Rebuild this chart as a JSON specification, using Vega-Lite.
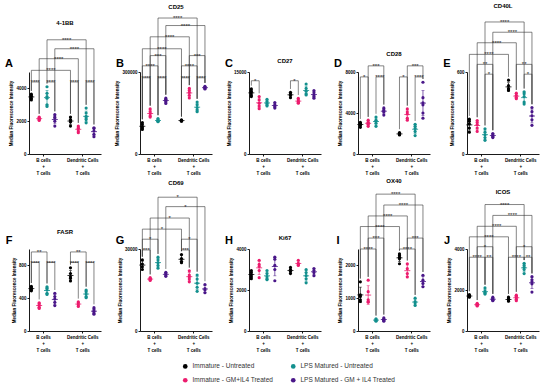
{
"$schema": "https://vega.github.io/schema/vega-lite/v6.json",
"background": "white",
"padding": {"left": 5, "right": 5, "top": 2, "bottom": 2},
"datasets": {
"pts": [
{"p":"A","g":"B","c":"IU","r":3,"v":3650},{"p":"A","g":"B","c":"IU","r":1,"v":3500},{"p":"A","g":"B","c":"IU","r":5,"v":3400},{"p":"A","g":"B","c":"IU","r":2,"v":3300},{"p":"A","g":"B","c":"IU","r":4,"v":3550},
{"p":"A","g":"B","c":"IG","r":3,"v":2250},{"p":"A","g":"B","c":"IG","r":1,"v":2150},{"p":"A","g":"B","c":"IG","r":5,"v":2050},{"p":"A","g":"B","c":"IG","r":2,"v":2200},{"p":"A","g":"B","c":"IG","r":4,"v":2100},
{"p":"A","g":"B","c":"LU","r":3,"v":4100},{"p":"A","g":"B","c":"LU","r":1,"v":3700},{"p":"A","g":"B","c":"LU","r":5,"v":3400},{"p":"A","g":"B","c":"LU","r":2,"v":3000},{"p":"A","g":"B","c":"LU","r":4,"v":2900},{"p":"A","g":"B","c":"LU","r":6,"v":3500},
{"p":"A","g":"B","c":"LG","r":3,"v":2400},{"p":"A","g":"B","c":"LG","r":1,"v":2200},{"p":"A","g":"B","c":"LG","r":5,"v":2000},{"p":"A","g":"B","c":"LG","r":2,"v":1700},{"p":"A","g":"B","c":"LG","r":4,"v":2250},
{"p":"A","g":"DC","c":"IU","r":3,"v":2250},{"p":"A","g":"DC","c":"IU","r":1,"v":2100},{"p":"A","g":"DC","c":"IU","r":5,"v":1950},{"p":"A","g":"DC","c":"IU","r":2,"v":1700},{"p":"A","g":"DC","c":"IU","r":4,"v":2050},
{"p":"A","g":"DC","c":"IG","r":3,"v":1700},{"p":"A","g":"DC","c":"IG","r":1,"v":1550},{"p":"A","g":"DC","c":"IG","r":5,"v":1400},{"p":"A","g":"DC","c":"IG","r":2,"v":1600},{"p":"A","g":"DC","c":"IG","r":4,"v":1300},
{"p":"A","g":"DC","c":"LU","r":3,"v":2800},{"p":"A","g":"DC","c":"LU","r":1,"v":2300},{"p":"A","g":"DC","c":"LU","r":5,"v":2100},{"p":"A","g":"DC","c":"LU","r":2,"v":1900},{"p":"A","g":"DC","c":"LU","r":4,"v":2500},{"p":"A","g":"DC","c":"LU","r":6,"v":2200},
{"p":"A","g":"DC","c":"LG","r":3,"v":1600},{"p":"A","g":"DC","c":"LG","r":1,"v":1400},{"p":"A","g":"DC","c":"LG","r":5,"v":1200},{"p":"A","g":"DC","c":"LG","r":2,"v":1050},{"p":"A","g":"DC","c":"LG","r":4,"v":1550},

{"p":"B","g":"B","c":"IU","r":3,"v":115000},{"p":"B","g":"B","c":"IU","r":1,"v":108000},{"p":"B","g":"B","c":"IU","r":5,"v":100000},{"p":"B","g":"B","c":"IU","r":2,"v":95000},{"p":"B","g":"B","c":"IU","r":4,"v":90000},
{"p":"B","g":"B","c":"IG","r":3,"v":165000},{"p":"B","g":"B","c":"IG","r":1,"v":155000},{"p":"B","g":"B","c":"IG","r":5,"v":148000},{"p":"B","g":"B","c":"IG","r":2,"v":140000},{"p":"B","g":"B","c":"IG","r":4,"v":135000},
{"p":"B","g":"B","c":"LU","r":3,"v":130000},{"p":"B","g":"B","c":"LU","r":1,"v":125000},{"p":"B","g":"B","c":"LU","r":5,"v":120000},{"p":"B","g":"B","c":"LU","r":2,"v":118000},{"p":"B","g":"B","c":"LU","r":4,"v":122000},
{"p":"B","g":"B","c":"LG","r":3,"v":205000},{"p":"B","g":"B","c":"LG","r":1,"v":198000},{"p":"B","g":"B","c":"LG","r":5,"v":192000},{"p":"B","g":"B","c":"LG","r":2,"v":185000},{"p":"B","g":"B","c":"LG","r":4,"v":200000},
{"p":"B","g":"DC","c":"IU","r":3,"v":125000},{"p":"B","g":"DC","c":"IU","r":1,"v":122000},{"p":"B","g":"DC","c":"IU","r":5,"v":120000},{"p":"B","g":"DC","c":"IU","r":2,"v":123000},{"p":"B","g":"DC","c":"IU","r":4,"v":121000},
{"p":"B","g":"DC","c":"IG","r":3,"v":240000},{"p":"B","g":"DC","c":"IG","r":1,"v":232000},{"p":"B","g":"DC","c":"IG","r":5,"v":225000},{"p":"B","g":"DC","c":"IG","r":2,"v":215000},{"p":"B","g":"DC","c":"IG","r":4,"v":205000},
{"p":"B","g":"DC","c":"LU","r":3,"v":190000},{"p":"B","g":"DC","c":"LU","r":1,"v":180000},{"p":"B","g":"DC","c":"LU","r":5,"v":170000},{"p":"B","g":"DC","c":"LU","r":2,"v":162000},{"p":"B","g":"DC","c":"LU","r":4,"v":155000},
{"p":"B","g":"DC","c":"LG","r":3,"v":248000},{"p":"B","g":"DC","c":"LG","r":1,"v":244000},{"p":"B","g":"DC","c":"LG","r":5,"v":240000},{"p":"B","g":"DC","c":"LG","r":2,"v":238000},

{"p":"C","g":"B","c":"IU","r":3,"v":11900},{"p":"C","g":"B","c":"IU","r":1,"v":11500},{"p":"C","g":"B","c":"IU","r":5,"v":11200},{"p":"C","g":"B","c":"IU","r":2,"v":10800},{"p":"C","g":"B","c":"IU","r":4,"v":10500},
{"p":"C","g":"B","c":"IG","r":3,"v":10500},{"p":"C","g":"B","c":"IG","r":1,"v":9900},{"p":"C","g":"B","c":"IG","r":5,"v":9300},{"p":"C","g":"B","c":"IG","r":2,"v":8800},{"p":"C","g":"B","c":"IG","r":4,"v":8300},
{"p":"C","g":"B","c":"LU","r":3,"v":10000},{"p":"C","g":"B","c":"LU","r":1,"v":9600},{"p":"C","g":"B","c":"LU","r":5,"v":9300},{"p":"C","g":"B","c":"LU","r":2,"v":9000},{"p":"C","g":"B","c":"LU","r":4,"v":8800},
{"p":"C","g":"B","c":"LG","r":3,"v":9400},{"p":"C","g":"B","c":"LG","r":1,"v":9000},{"p":"C","g":"B","c":"LG","r":5,"v":8700},{"p":"C","g":"B","c":"LG","r":2,"v":8400},
{"p":"C","g":"DC","c":"IU","r":3,"v":11300},{"p":"C","g":"DC","c":"IU","r":1,"v":11000},{"p":"C","g":"DC","c":"IU","r":5,"v":10700},{"p":"C","g":"DC","c":"IU","r":2,"v":10300},
{"p":"C","g":"DC","c":"IG","r":3,"v":10200},{"p":"C","g":"DC","c":"IG","r":1,"v":9900},{"p":"C","g":"DC","c":"IG","r":5,"v":9600},{"p":"C","g":"DC","c":"IG","r":2,"v":9400},{"p":"C","g":"DC","c":"IG","r":4,"v":9300},
{"p":"C","g":"DC","c":"LU","r":3,"v":12800},{"p":"C","g":"DC","c":"LU","r":1,"v":12000},{"p":"C","g":"DC","c":"LU","r":5,"v":11500},{"p":"C","g":"DC","c":"LU","r":2,"v":11000},{"p":"C","g":"DC","c":"LU","r":4,"v":10800},
{"p":"C","g":"DC","c":"LG","r":3,"v":11600},{"p":"C","g":"DC","c":"LG","r":1,"v":11200},{"p":"C","g":"DC","c":"LG","r":5,"v":10800},{"p":"C","g":"DC","c":"LG","r":2,"v":10500},{"p":"C","g":"DC","c":"LG","r":4,"v":10200},

{"p":"D","g":"B","c":"IU","r":3,"v":3100},{"p":"D","g":"B","c":"IU","r":1,"v":2900},{"p":"D","g":"B","c":"IU","r":5,"v":2800},{"p":"D","g":"B","c":"IU","r":2,"v":2600},{"p":"D","g":"B","c":"IU","r":4,"v":3000},
{"p":"D","g":"B","c":"IG","r":3,"v":3300},{"p":"D","g":"B","c":"IG","r":1,"v":3100},{"p":"D","g":"B","c":"IG","r":5,"v":2900},{"p":"D","g":"B","c":"IG","r":2,"v":2700},{"p":"D","g":"B","c":"IG","r":4,"v":3000},
{"p":"D","g":"B","c":"LU","r":3,"v":3600},{"p":"D","g":"B","c":"LU","r":1,"v":3300},{"p":"D","g":"B","c":"LU","r":5,"v":3000},{"p":"D","g":"B","c":"LU","r":2,"v":2700},{"p":"D","g":"B","c":"LU","r":4,"v":3200},
{"p":"D","g":"B","c":"LG","r":3,"v":4500},{"p":"D","g":"B","c":"LG","r":1,"v":4300},{"p":"D","g":"B","c":"LG","r":5,"v":4100},{"p":"D","g":"B","c":"LG","r":2,"v":3800},{"p":"D","g":"B","c":"LG","r":4,"v":4200},
{"p":"D","g":"DC","c":"IU","r":3,"v":2100},{"p":"D","g":"DC","c":"IU","r":1,"v":2000},{"p":"D","g":"DC","c":"IU","r":5,"v":1950},{"p":"D","g":"DC","c":"IU","r":2,"v":1900},{"p":"D","g":"DC","c":"IU","r":4,"v":1850},
{"p":"D","g":"DC","c":"IG","r":3,"v":4400},{"p":"D","g":"DC","c":"IG","r":1,"v":4100},{"p":"D","g":"DC","c":"IG","r":5,"v":3900},{"p":"D","g":"DC","c":"IG","r":2,"v":3500},{"p":"D","g":"DC","c":"IG","r":4,"v":3300},
{"p":"D","g":"DC","c":"LU","r":3,"v":2900},{"p":"D","g":"DC","c":"LU","r":1,"v":2700},{"p":"D","g":"DC","c":"LU","r":5,"v":2500},{"p":"D","g":"DC","c":"LU","r":2,"v":2200},{"p":"D","g":"DC","c":"LU","r":4,"v":1800},
{"p":"D","g":"DC","c":"LG","r":3,"v":7000},{"p":"D","g":"DC","c":"LG","r":1,"v":5500},{"p":"D","g":"DC","c":"LG","r":5,"v":5000},{"p":"D","g":"DC","c":"LG","r":2,"v":4800},{"p":"D","g":"DC","c":"LG","r":4,"v":4000},{"p":"D","g":"DC","c":"LG","r":6,"v":3500},

{"p":"E","g":"B","c":"IU","r":3,"v":255},{"p":"E","g":"B","c":"IU","r":1,"v":240},{"p":"E","g":"B","c":"IU","r":5,"v":220},{"p":"E","g":"B","c":"IU","r":2,"v":190},{"p":"E","g":"B","c":"IU","r":4,"v":160},
{"p":"E","g":"B","c":"IG","r":3,"v":245},{"p":"E","g":"B","c":"IG","r":1,"v":230},{"p":"E","g":"B","c":"IG","r":5,"v":215},{"p":"E","g":"B","c":"IG","r":2,"v":190},{"p":"E","g":"B","c":"IG","r":4,"v":165},
{"p":"E","g":"B","c":"LU","r":3,"v":185},{"p":"E","g":"B","c":"LU","r":1,"v":160},{"p":"E","g":"B","c":"LU","r":5,"v":140},{"p":"E","g":"B","c":"LU","r":2,"v":120},{"p":"E","g":"B","c":"LU","r":4,"v":100},
{"p":"E","g":"B","c":"LG","r":3,"v":150},{"p":"E","g":"B","c":"LG","r":1,"v":140},{"p":"E","g":"B","c":"LG","r":5,"v":130},{"p":"E","g":"B","c":"LG","r":2,"v":120},
{"p":"E","g":"DC","c":"IU","r":3,"v":540},{"p":"E","g":"DC","c":"IU","r":1,"v":500},{"p":"E","g":"DC","c":"IU","r":5,"v":480},{"p":"E","g":"DC","c":"IU","r":2,"v":470},{"p":"E","g":"DC","c":"IU","r":4,"v":465},
{"p":"E","g":"DC","c":"IG","r":3,"v":445},{"p":"E","g":"DC","c":"IG","r":1,"v":430},{"p":"E","g":"DC","c":"IG","r":5,"v":415},{"p":"E","g":"DC","c":"IG","r":2,"v":405},
{"p":"E","g":"DC","c":"LU","r":3,"v":455},{"p":"E","g":"DC","c":"LU","r":1,"v":440},{"p":"E","g":"DC","c":"LU","r":5,"v":420},{"p":"E","g":"DC","c":"LU","r":2,"v":380},{"p":"E","g":"DC","c":"LU","r":4,"v":365},
{"p":"E","g":"DC","c":"LG","r":3,"v":340},{"p":"E","g":"DC","c":"LG","r":1,"v":310},{"p":"E","g":"DC","c":"LG","r":5,"v":280},{"p":"E","g":"DC","c":"LG","r":2,"v":250},{"p":"E","g":"DC","c":"LG","r":4,"v":210},

{"p":"F","g":"B","c":"IU","r":3,"v":545},{"p":"F","g":"B","c":"IU","r":1,"v":530},{"p":"F","g":"B","c":"IU","r":5,"v":515},{"p":"F","g":"B","c":"IU","r":2,"v":500},{"p":"F","g":"B","c":"IU","r":4,"v":490},
{"p":"F","g":"B","c":"IG","r":3,"v":345},{"p":"F","g":"B","c":"IG","r":1,"v":330},{"p":"F","g":"B","c":"IG","r":5,"v":310},{"p":"F","g":"B","c":"IG","r":2,"v":290},{"p":"F","g":"B","c":"IG","r":4,"v":275},
{"p":"F","g":"B","c":"LU","r":3,"v":540},{"p":"F","g":"B","c":"LU","r":1,"v":520},{"p":"F","g":"B","c":"LU","r":5,"v":500},{"p":"F","g":"B","c":"LU","r":2,"v":460},{"p":"F","g":"B","c":"LU","r":4,"v":445},
{"p":"F","g":"B","c":"LG","r":3,"v":460},{"p":"F","g":"B","c":"LG","r":1,"v":420},{"p":"F","g":"B","c":"LG","r":5,"v":390},{"p":"F","g":"B","c":"LG","r":2,"v":350},{"p":"F","g":"B","c":"LG","r":4,"v":310},
{"p":"F","g":"DC","c":"IU","r":3,"v":770},{"p":"F","g":"DC","c":"IU","r":1,"v":700},{"p":"F","g":"DC","c":"IU","r":5,"v":660},{"p":"F","g":"DC","c":"IU","r":2,"v":640},{"p":"F","g":"DC","c":"IU","r":4,"v":610},
{"p":"F","g":"DC","c":"IG","r":3,"v":355},{"p":"F","g":"DC","c":"IG","r":1,"v":340},{"p":"F","g":"DC","c":"IG","r":5,"v":320},{"p":"F","g":"DC","c":"IG","r":2,"v":300},
{"p":"F","g":"DC","c":"LU","r":3,"v":500},{"p":"F","g":"DC","c":"LU","r":1,"v":480},{"p":"F","g":"DC","c":"LU","r":5,"v":450},{"p":"F","g":"DC","c":"LU","r":2,"v":420},{"p":"F","g":"DC","c":"LU","r":4,"v":405},
{"p":"F","g":"DC","c":"LG","r":3,"v":285},{"p":"F","g":"DC","c":"LG","r":1,"v":260},{"p":"F","g":"DC","c":"LG","r":5,"v":240},{"p":"F","g":"DC","c":"LG","r":2,"v":220},{"p":"F","g":"DC","c":"LG","r":4,"v":205},

{"p":"G","g":"B","c":"IU","r":3,"v":26000},{"p":"G","g":"B","c":"IU","r":1,"v":24500},{"p":"G","g":"B","c":"IU","r":5,"v":23500},{"p":"G","g":"B","c":"IU","r":2,"v":22500},
{"p":"G","g":"B","c":"IG","r":3,"v":19500},{"p":"G","g":"B","c":"IG","r":1,"v":19000},{"p":"G","g":"B","c":"IG","r":5,"v":18500},{"p":"G","g":"B","c":"IG","r":2,"v":18800},{"p":"G","g":"B","c":"IG","r":4,"v":19200},
{"p":"G","g":"B","c":"LU","r":3,"v":27000},{"p":"G","g":"B","c":"LU","r":1,"v":26000},{"p":"G","g":"B","c":"LU","r":5,"v":25000},{"p":"G","g":"B","c":"LU","r":2,"v":24000},{"p":"G","g":"B","c":"LU","r":4,"v":23000},
{"p":"G","g":"B","c":"LG","r":3,"v":21500},{"p":"G","g":"B","c":"LG","r":1,"v":21000},{"p":"G","g":"B","c":"LG","r":5,"v":20500},{"p":"G","g":"B","c":"LG","r":2,"v":20000},
{"p":"G","g":"DC","c":"IU","r":3,"v":28000},{"p":"G","g":"DC","c":"IU","r":1,"v":26500},{"p":"G","g":"DC","c":"IU","r":5,"v":25500},{"p":"G","g":"DC","c":"IU","r":2,"v":25000},
{"p":"G","g":"DC","c":"IG","r":3,"v":22000},{"p":"G","g":"DC","c":"IG","r":1,"v":20500},{"p":"G","g":"DC","c":"IG","r":5,"v":19800},{"p":"G","g":"DC","c":"IG","r":2,"v":19000},{"p":"G","g":"DC","c":"IG","r":4,"v":18000},
{"p":"G","g":"DC","c":"LU","r":3,"v":20500},{"p":"G","g":"DC","c":"LU","r":1,"v":19000},{"p":"G","g":"DC","c":"LU","r":5,"v":17500},{"p":"G","g":"DC","c":"LU","r":2,"v":16000},{"p":"G","g":"DC","c":"LU","r":4,"v":14500},
{"p":"G","g":"DC","c":"LG","r":3,"v":17000},{"p":"G","g":"DC","c":"LG","r":1,"v":15500},{"p":"G","g":"DC","c":"LG","r":5,"v":15000},{"p":"G","g":"DC","c":"LG","r":2,"v":14000},

{"p":"H","g":"B","c":"IU","r":3,"v":2950},{"p":"H","g":"B","c":"IU","r":1,"v":2850},{"p":"H","g":"B","c":"IU","r":5,"v":2750},{"p":"H","g":"B","c":"IU","r":2,"v":2650},{"p":"H","g":"B","c":"IU","r":4,"v":2550},
{"p":"H","g":"B","c":"IG","r":3,"v":3450},{"p":"H","g":"B","c":"IG","r":1,"v":3250},{"p":"H","g":"B","c":"IG","r":5,"v":3150},{"p":"H","g":"B","c":"IG","r":2,"v":2950},{"p":"H","g":"B","c":"IG","r":4,"v":2600},
{"p":"H","g":"B","c":"LU","r":3,"v":2950},{"p":"H","g":"B","c":"LU","r":1,"v":2800},{"p":"H","g":"B","c":"LU","r":5,"v":2650},{"p":"H","g":"B","c":"LU","r":2,"v":2550},{"p":"H","g":"B","c":"LU","r":4,"v":2500},
{"p":"H","g":"B","c":"LG","r":3,"v":3600},{"p":"H","g":"B","c":"LG","r":1,"v":3500},{"p":"H","g":"B","c":"LG","r":5,"v":3200},{"p":"H","g":"B","c":"LG","r":2,"v":3000},{"p":"H","g":"B","c":"LG","r":4,"v":2450},
{"p":"H","g":"DC","c":"IU","r":3,"v":3100},{"p":"H","g":"DC","c":"IU","r":1,"v":3000},{"p":"H","g":"DC","c":"IU","r":5,"v":2900},{"p":"H","g":"DC","c":"IU","r":2,"v":2800},
{"p":"H","g":"DC","c":"IG","r":3,"v":3450},{"p":"H","g":"DC","c":"IG","r":1,"v":3300},{"p":"H","g":"DC","c":"IG","r":5,"v":3250},{"p":"H","g":"DC","c":"IG","r":2,"v":3200},
{"p":"H","g":"DC","c":"LU","r":3,"v":3000},{"p":"H","g":"DC","c":"LU","r":1,"v":2850},{"p":"H","g":"DC","c":"LU","r":5,"v":2700},{"p":"H","g":"DC","c":"LU","r":2,"v":2550},{"p":"H","g":"DC","c":"LU","r":4,"v":2350},
{"p":"H","g":"DC","c":"LG","r":3,"v":3050},{"p":"H","g":"DC","c":"LG","r":1,"v":2950},{"p":"H","g":"DC","c":"LG","r":5,"v":2850},{"p":"H","g":"DC","c":"LG","r":2,"v":2700},

{"p":"I","g":"B","c":"IU","r":3,"v":1500},{"p":"I","g":"B","c":"IU","r":1,"v":1100},{"p":"I","g":"B","c":"IU","r":5,"v":1050},{"p":"I","g":"B","c":"IU","r":2,"v":950},{"p":"I","g":"B","c":"IU","r":4,"v":900},
{"p":"I","g":"B","c":"IG","r":3,"v":1550},{"p":"I","g":"B","c":"IG","r":1,"v":1200},{"p":"I","g":"B","c":"IG","r":5,"v":950},{"p":"I","g":"B","c":"IG","r":2,"v":900},{"p":"I","g":"B","c":"IG","r":4,"v":880},
{"p":"I","g":"B","c":"LU","r":3,"v":370},{"p":"I","g":"B","c":"LU","r":1,"v":340},{"p":"I","g":"B","c":"LU","r":5,"v":320},{"p":"I","g":"B","c":"LU","r":2,"v":300},
{"p":"I","g":"B","c":"LG","r":3,"v":400},{"p":"I","g":"B","c":"LG","r":1,"v":360},{"p":"I","g":"B","c":"LG","r":5,"v":330},{"p":"I","g":"B","c":"LG","r":2,"v":300},
{"p":"I","g":"DC","c":"IU","r":3,"v":2350},{"p":"I","g":"DC","c":"IU","r":1,"v":2300},{"p":"I","g":"DC","c":"IU","r":5,"v":2250},{"p":"I","g":"DC","c":"IU","r":2,"v":2200},{"p":"I","g":"DC","c":"IU","r":4,"v":2050},
{"p":"I","g":"DC","c":"IG","r":3,"v":2050},{"p":"I","g":"DC","c":"IG","r":1,"v":1900},{"p":"I","g":"DC","c":"IG","r":5,"v":1750},{"p":"I","g":"DC","c":"IG","r":2,"v":1650},
{"p":"I","g":"DC","c":"LU","r":3,"v":1000},{"p":"I","g":"DC","c":"LU","r":1,"v":900},{"p":"I","g":"DC","c":"LU","r":5,"v":850},{"p":"I","g":"DC","c":"LU","r":2,"v":780},
{"p":"I","g":"DC","c":"LG","r":3,"v":1700},{"p":"I","g":"DC","c":"LG","r":1,"v":1550},{"p":"I","g":"DC","c":"LG","r":5,"v":1450},{"p":"I","g":"DC","c":"LG","r":2,"v":1350},

{"p":"J","g":"B","c":"IU","r":3,"v":1780},{"p":"J","g":"B","c":"IU","r":1,"v":1720},{"p":"J","g":"B","c":"IU","r":5,"v":1680},{"p":"J","g":"B","c":"IU","r":2,"v":1650},{"p":"J","g":"B","c":"IU","r":4,"v":1700},
{"p":"J","g":"B","c":"IG","r":3,"v":1350},{"p":"J","g":"B","c":"IG","r":1,"v":1300},{"p":"J","g":"B","c":"IG","r":5,"v":1280},{"p":"J","g":"B","c":"IG","r":2,"v":1250},{"p":"J","g":"B","c":"IG","r":4,"v":1220},
{"p":"J","g":"B","c":"LU","r":3,"v":2100},{"p":"J","g":"B","c":"LU","r":1,"v":1950},{"p":"J","g":"B","c":"LU","r":5,"v":1880},{"p":"J","g":"B","c":"LU","r":2,"v":1850},{"p":"J","g":"B","c":"LU","r":4,"v":1800},
{"p":"J","g":"B","c":"LG","r":3,"v":1650},{"p":"J","g":"B","c":"LG","r":1,"v":1580},{"p":"J","g":"B","c":"LG","r":5,"v":1550},{"p":"J","g":"B","c":"LG","r":2,"v":1500},{"p":"J","g":"B","c":"LG","r":4,"v":1480},
{"p":"J","g":"DC","c":"IU","r":3,"v":1650},{"p":"J","g":"DC","c":"IU","r":1,"v":1580},{"p":"J","g":"DC","c":"IU","r":5,"v":1520},{"p":"J","g":"DC","c":"IU","r":2,"v":1480},{"p":"J","g":"DC","c":"IU","r":4,"v":1450},
{"p":"J","g":"DC","c":"IG","r":3,"v":1750},{"p":"J","g":"DC","c":"IG","r":1,"v":1700},{"p":"J","g":"DC","c":"IG","r":5,"v":1620},{"p":"J","g":"DC","c":"IG","r":2,"v":1550},{"p":"J","g":"DC","c":"IG","r":4,"v":1480},
{"p":"J","g":"DC","c":"LU","r":3,"v":3300},{"p":"J","g":"DC","c":"LU","r":1,"v":3200},{"p":"J","g":"DC","c":"LU","r":5,"v":3100},{"p":"J","g":"DC","c":"LU","r":2,"v":3000},{"p":"J","g":"DC","c":"LU","r":4,"v":2800},
{"p":"J","g":"DC","c":"LG","r":3,"v":2650},{"p":"J","g":"DC","c":"LG","r":1,"v":2500},{"p":"J","g":"DC","c":"LG","r":5,"v":2400},{"p":"J","g":"DC","c":"LG","r":2,"v":2300},{"p":"J","g":"DC","c":"LG","r":4,"v":1900}
],
"br": [
{"p":"A","a":3,"b":8,"lvl":6964,"ya":4300,"yb":3000,"s":"****"},
{"p":"A","a":4,"b":9,"lvl":6417,"ya":2600,"yb":1800,"s":"****"},
{"p":"A","a":2,"b":7,"lvl":5810,"ya":2450,"yb":1900,"s":"****"},
{"p":"A","a":1,"b":6,"lvl":5101,"ya":3850,"yb":2450,"s":"****"},
{"p":"A","a":1,"b":2,"lvl":4393,"ya":3850,"yb":2450,"s":"****"},
{"p":"A","a":3,"b":4,"lvl":4393,"ya":4300,"yb":2600,"s":"****"},
{"p":"A","a":6,"b":7,"lvl":4393,"ya":2450,"yb":1900,"s":"****"},
{"p":"A","a":8,"b":9,"lvl":4393,"ya":3000,"yb":1800,"s":"****"},
{"p":"B","a":3,"b":8,"lvl":497500,"ya":142000,"yb":202000,"s":"****"},
{"p":"B","a":4,"b":9,"lvl":470000,"ya":217000,"yb":260000,"s":"****"},
{"p":"B","a":2,"b":7,"lvl":428750,"ya":177000,"yb":252000,"s":"****"},
{"p":"B","a":1,"b":6,"lvl":385000,"ya":127000,"yb":137000,"s":"****"},
{"p":"B","a":2,"b":4,"lvl":360000,"ya":177000,"yb":217000,"s":"***"},
{"p":"B","a":7,"b":9,"lvl":360000,"ya":252000,"yb":260000,"s":"***"},
{"p":"B","a":1,"b":3,"lvl":322500,"ya":127000,"yb":142000,"s":"****"},
{"p":"B","a":6,"b":8,"lvl":322500,"ya":137000,"yb":202000,"s":"****"},
{"p":"B","a":1,"b":2,"lvl":278750,"ya":127000,"yb":177000,"s":"****"},
{"p":"B","a":3,"b":4,"lvl":278750,"ya":142000,"yb":217000,"s":"****"},
{"p":"B","a":6,"b":7,"lvl":278750,"ya":137000,"yb":252000,"s":"****"},
{"p":"B","a":8,"b":9,"lvl":278750,"ya":202000,"yb":260000,"s":"****"},
{"p":"C","a":1,"b":2,"lvl":13400,"ya":12500,"yb":11100,"s":"*"},
{"p":"C","a":6,"b":7,"lvl":13400,"ya":11900,"yb":10800,"s":"*"},
{"p":"D","a":1,"b":2,"lvl":7520,"ya":3420,"yb":3620,"s":"*"},
{"p":"D","a":3,"b":4,"lvl":7520,"ya":3920,"yb":4820,"s":"****"},
{"p":"D","a":6,"b":7,"lvl":7520,"ya":2420,"yb":4720,"s":"*"},
{"p":"D","a":8,"b":9,"lvl":7520,"ya":3220,"yb":7320,"s":"****"},
{"p":"D","a":2,"b":4,"lvl":8600,"ya":3620,"yb":4820,"s":"***"},
{"p":"D","a":7,"b":9,"lvl":8600,"ya":4720,"yb":7320,"s":"***"},
{"p":"E","a":3,"b":8,"lvl":966,"ya":209,"yb":479,"s":"****"},
{"p":"E","a":4,"b":9,"lvl":891,"ya":174,"yb":364,"s":"****"},
{"p":"E","a":2,"b":7,"lvl":814,"ya":269,"yb":469,"s":"****"},
{"p":"E","a":1,"b":6,"lvl":729,"ya":279,"yb":564,"s":"****"},
{"p":"E","a":2,"b":4,"lvl":656,"ya":269,"yb":174,"s":"**"},
{"p":"E","a":7,"b":9,"lvl":656,"ya":469,"yb":364,"s":"**"},
{"p":"E","a":3,"b":4,"lvl":584,"ya":209,"yb":174,"s":"*"},
{"p":"E","a":8,"b":9,"lvl":584,"ya":479,"yb":364,"s":"*"},
{"p":"F","a":1,"b":2,"lvl":835,"ya":585,"yb":385,"s":"****"},
{"p":"F","a":3,"b":4,"lvl":835,"ya":580,"yb":500,"s":"****"},
{"p":"F","a":6,"b":7,"lvl":835,"ya":810,"yb":395,"s":"****"},
{"p":"F","a":8,"b":9,"lvl":835,"ya":540,"yb":325,"s":"****"},
{"p":"F","a":1,"b":3,"lvl":964,"ya":585,"yb":580,"s":"**"},
{"p":"F","a":6,"b":8,"lvl":964,"ya":810,"yb":540,"s":"**"},
{"p":"G","a":3,"b":8,"lvl":48950,"ya":28200,"yb":21700,"s":"*"},
{"p":"G","a":4,"b":9,"lvl":45500,"ya":22700,"yb":18200,"s":"*"},
{"p":"G","a":2,"b":7,"lvl":41330,"ya":20700,"yb":23200,"s":"*"},
{"p":"G","a":1,"b":6,"lvl":37270,"ya":27200,"yb":29200,"s":"*"},
{"p":"G","a":1,"b":3,"lvl":33580,"ya":27200,"yb":28200,"s":"*"},
{"p":"G","a":6,"b":8,"lvl":33580,"ya":29200,"yb":21700,"s":"*"},
{"p":"G","a":1,"b":2,"lvl":29640,"ya":27200,"yb":20700,"s":"***"},
{"p":"G","a":6,"b":7,"lvl":29640,"ya":29200,"yb":23200,"s":"***"},
{"p":"I","a":3,"b":8,"lvl":4173,"ya":470,"yb":1100,"s":"****"},
{"p":"I","a":4,"b":9,"lvl":3841,"ya":500,"yb":1800,"s":"****"},
{"p":"I","a":2,"b":7,"lvl":3508,"ya":1650,"yb":2150,"s":"****"},
{"p":"I","a":1,"b":6,"lvl":3185,"ya":1600,"yb":2450,"s":"****"},
{"p":"I","a":2,"b":4,"lvl":2833,"ya":1650,"yb":500,"s":"***"},
{"p":"I","a":7,"b":9,"lvl":2833,"ya":2150,"yb":1800,"s":"***"},
{"p":"I","a":1,"b":3,"lvl":2500,"ya":1600,"yb":470,"s":"****"},
{"p":"I","a":6,"b":8,"lvl":2500,"ya":2450,"yb":1100,"s":"****"},
{"p":"J","a":3,"b":8,"lvl":6169,"ya":2260,"yb":3460,"s":"****"},
{"p":"J","a":4,"b":9,"lvl":5639,"ya":1810,"yb":2810,"s":"****"},
{"p":"J","a":2,"b":7,"lvl":5108,"ya":1510,"yb":1910,"s":"****"},
{"p":"J","a":1,"b":6,"lvl":4594,"ya":1940,"yb":1810,"s":"****"},
{"p":"J","a":2,"b":4,"lvl":4112,"ya":1510,"yb":1810,"s":"*"},
{"p":"J","a":7,"b":9,"lvl":4112,"ya":1910,"yb":2810,"s":"*"},
{"p":"J","a":1,"b":3,"lvl":3598,"ya":1940,"yb":2260,"s":"****"},
{"p":"J","a":6,"b":8,"lvl":3598,"ya":1810,"yb":3460,"s":"****"},
{"p":"J","a":3,"b":4,"lvl":3598,"ya":2260,"yb":1810,"s":"**"},
{"p":"J","a":8,"b":9,"lvl":3598,"ya":3460,"yb":2810,"s":"**"}
]
},
"columns": 5,
"spacing": {"row": 3, "column": 13},
"concat": [
{"width":72,"height":82,"title":{"text":"4-1BB","offset":11},"layer":[
 {"data":{"name":"pts"},"transform":[{"filter":"datum.p=='A'"},{"calculate":"(datum.g=='DC'?6:1)+indexof(['IU','IG','LU','LG'],datum.c)","as":"xp"}],
  "mark":{"type":"circle","size":10,"opacity":1},
  "encoding":{"x":{"field":"xp","type":"quantitative","scale":{"domain":[0.7,9.9],"nice":false,"zero":false},"axis":{"values":[2.5,7.5],"title":null,"labelExpr":"datum.value < 5 ? ['B cells','+','T cells'] : ['Dendritic Cells','+','T cells']"}},
   "xOffset":{"field":"r","type":"quantitative","scale":{"domain":[1,6],"range":[-2,2]}},
   "y":{"field":"v","type":"quantitative","scale":{"domain":[0,5000],"nice":false},"axis":{"values":[0,1000,2000,3000,4000,5000],"format":"d"},"title":"Median Fluorescence Intensity"},
   "color":{"field":"c","type":"nominal","scale":{"domain":["IU","IG","LU","LG"],"range":["#000000","#EC1C6E","#13908E","#4A1789"]},"legend":{"orient":"none","legendX":153,"legendY":291,"columns":2,"title":null,"symbolType":"circle","symbolSize":22,"labelFontSize":6.5,"labelColor":"#333","columnPadding":17,"rowPadding":7,"labelLimit":200,"symbolStrokeWidth":0,"labelExpr":"datum.label=='IU'?'Immature - Untreated':datum.label=='LU'?'LPS Matured - Untreated':datum.label=='IG'?'Immature - GM+IL4 Treated':'LPS Matured - GM + IL4 Treated'"}}}},
 {"data":{"name":"pts"},"transform":[{"filter":"datum.p=='A'"},{"calculate":"(datum.g=='DC'?6:1)+indexof(['IU','IG','LU','LG'],datum.c)","as":"xp"}],
  "mark":{"type":"errorbar","extent":"stdev","orient":"vertical","thickness":0.7,"ticks":{"size":3}},
  "encoding":{"x":{"field":"xp","type":"quantitative"},"y":{"field":"v","type":"quantitative","title":"Median Fluorescence Intensity"},"color":{"field":"c","type":"nominal"}}},
 {"data":{"name":"pts"},"transform":[{"filter":"datum.p=='A'"},{"calculate":"(datum.g=='DC'?6:1)+indexof(['IU','IG','LU','LG'],datum.c)","as":"xp"}],
  "mark":{"type":"tick","orient":"horizontal","size":6,"thickness":0.8},
  "encoding":{"x":{"field":"xp","type":"quantitative"},"y":{"aggregate":"mean","field":"v","type":"quantitative","title":"Median Fluorescence Intensity"},"color":{"field":"c","type":"nominal"}}},
 {"data":{"name":"br"},"transform":[{"filter":"datum.p=='A'"}],"mark":{"type":"rule","strokeWidth":0.6,"color":"#333"},"encoding":{"x":{"field":"a","type":"quantitative"},"x2":{"field":"b"},"y":{"field":"lvl","type":"quantitative","title":"Median Fluorescence Intensity"}}},
 {"data":{"name":"br"},"transform":[{"filter":"datum.p=='A'"}],"mark":{"type":"rule","strokeWidth":0.6,"color":"#333"},"encoding":{"x":{"field":"a","type":"quantitative"},"y":{"field":"lvl","type":"quantitative","title":"Median Fluorescence Intensity"},"y2":{"field":"ya"}}},
 {"data":{"name":"br"},"transform":[{"filter":"datum.p=='A'"}],"mark":{"type":"rule","strokeWidth":0.6,"color":"#333"},"encoding":{"x":{"field":"b","type":"quantitative"},"y":{"field":"lvl","type":"quantitative","title":"Median Fluorescence Intensity"},"y2":{"field":"yb"}}},
 {"data":{"name":"br"},"transform":[{"filter":"datum.p=='A'"},{"calculate":"(datum.a+datum.b)/2","as":"xm"}],"mark":{"type":"text","fontSize":6,"baseline":"alphabetic","dy":2,"color":"#222"},"encoding":{"x":{"field":"xm","type":"quantitative"},"y":{"field":"lvl","type":"quantitative","title":"Median Fluorescence Intensity"},"text":{"field":"s"}}},
 {"data":{"values":[{"t":"A"}]},"mark":{"type":"text","fontSize":11,"fontWeight":"bold","dx":-20,"dy":-8,"align":"center","baseline":"middle","color":"black"},"encoding":{"x":{"datum":0.7},"y":{"datum":5000},"text":{"field":"t"}}}
]},
{"width":72,"height":82,"title":{"text":"CD25","offset":5},"layer":[
 {"data":{"name":"pts"},"transform":[{"filter":"datum.p=='B'"},{"calculate":"(datum.g=='DC'?6:1)+indexof(['IU','IG','LU','LG'],datum.c)","as":"xp"}],
  "mark":{"type":"circle","size":10,"opacity":1},
  "encoding":{"x":{"field":"xp","type":"quantitative","scale":{"domain":[0.7,9.9],"nice":false,"zero":false},"axis":{"values":[2.5,7.5],"title":null,"labelExpr":"datum.value < 5 ? ['B cells','+','T cells'] : ['Dendritic Cells','+','T cells']"}},
   "xOffset":{"field":"r","type":"quantitative","scale":{"domain":[1,6],"range":[-2,2]}},
   "y":{"field":"v","type":"quantitative","scale":{"domain":[0,300000],"nice":false},"axis":{"values":[0,100000,200000,300000],"format":"d"},"title":"Median Fluorescence Intensity"},
   "color":{"field":"c","type":"nominal"}}},
 {"data":{"name":"pts"},"transform":[{"filter":"datum.p=='B'"},{"calculate":"(datum.g=='DC'?6:1)+indexof(['IU','IG','LU','LG'],datum.c)","as":"xp"}],
  "mark":{"type":"errorbar","extent":"stdev","orient":"vertical","thickness":0.7,"ticks":{"size":3}},
  "encoding":{"x":{"field":"xp","type":"quantitative"},"y":{"field":"v","type":"quantitative","title":"Median Fluorescence Intensity"},"color":{"field":"c","type":"nominal"}}},
 {"data":{"name":"pts"},"transform":[{"filter":"datum.p=='B'"},{"calculate":"(datum.g=='DC'?6:1)+indexof(['IU','IG','LU','LG'],datum.c)","as":"xp"}],
  "mark":{"type":"tick","orient":"horizontal","size":6,"thickness":0.8},
  "encoding":{"x":{"field":"xp","type":"quantitative"},"y":{"aggregate":"mean","field":"v","type":"quantitative","title":"Median Fluorescence Intensity"},"color":{"field":"c","type":"nominal"}}},
 {"data":{"name":"br"},"transform":[{"filter":"datum.p=='B'"}],"mark":{"type":"rule","strokeWidth":0.6,"color":"#333"},"encoding":{"x":{"field":"a","type":"quantitative"},"x2":{"field":"b"},"y":{"field":"lvl","type":"quantitative","title":"Median Fluorescence Intensity"}}},
 {"data":{"name":"br"},"transform":[{"filter":"datum.p=='B'"}],"mark":{"type":"rule","strokeWidth":0.6,"color":"#333"},"encoding":{"x":{"field":"a","type":"quantitative"},"y":{"field":"lvl","type":"quantitative","title":"Median Fluorescence Intensity"},"y2":{"field":"ya"}}},
 {"data":{"name":"br"},"transform":[{"filter":"datum.p=='B'"}],"mark":{"type":"rule","strokeWidth":0.6,"color":"#333"},"encoding":{"x":{"field":"b","type":"quantitative"},"y":{"field":"lvl","type":"quantitative","title":"Median Fluorescence Intensity"},"y2":{"field":"yb"}}},
 {"data":{"name":"br"},"transform":[{"filter":"datum.p=='B'"},{"calculate":"(datum.a+datum.b)/2","as":"xm"}],"mark":{"type":"text","fontSize":6,"baseline":"alphabetic","dy":2,"color":"#222"},"encoding":{"x":{"field":"xm","type":"quantitative"},"y":{"field":"lvl","type":"quantitative","title":"Median Fluorescence Intensity"},"text":{"field":"s"}}},
 {"data":{"values":[{"t":"B"}]},"mark":{"type":"text","fontSize":11,"fontWeight":"bold","dx":-20,"dy":-8,"align":"center","baseline":"middle","color":"black"},"encoding":{"x":{"datum":0.7},"y":{"datum":300000},"text":{"field":"t"}}}
]},
{"width":72,"height":82,"title":{"text":"CD27","offset":-6},"layer":[
 {"data":{"name":"pts"},"transform":[{"filter":"datum.p=='C'"},{"calculate":"(datum.g=='DC'?6:1)+indexof(['IU','IG','LU','LG'],datum.c)","as":"xp"}],
  "mark":{"type":"circle","size":10,"opacity":1},
  "encoding":{"x":{"field":"xp","type":"quantitative","scale":{"domain":[0.7,9.9],"nice":false,"zero":false},"axis":{"values":[2.5,7.5],"title":null,"labelExpr":"datum.value < 5 ? ['B cells','+','T cells'] : ['Dendritic Cells','+','T cells']"}},
   "xOffset":{"field":"r","type":"quantitative","scale":{"domain":[1,6],"range":[-2,2]}},
   "y":{"field":"v","type":"quantitative","scale":{"domain":[0,15000],"nice":false},"axis":{"values":[0,5000,10000,15000],"format":"d"},"title":"Median Fluorescence Intensity"},
   "color":{"field":"c","type":"nominal"}}},
 {"data":{"name":"pts"},"transform":[{"filter":"datum.p=='C'"},{"calculate":"(datum.g=='DC'?6:1)+indexof(['IU','IG','LU','LG'],datum.c)","as":"xp"}],
  "mark":{"type":"errorbar","extent":"stdev","orient":"vertical","thickness":0.7,"ticks":{"size":3}},
  "encoding":{"x":{"field":"xp","type":"quantitative"},"y":{"field":"v","type":"quantitative","title":"Median Fluorescence Intensity"},"color":{"field":"c","type":"nominal"}}},
 {"data":{"name":"pts"},"transform":[{"filter":"datum.p=='C'"},{"calculate":"(datum.g=='DC'?6:1)+indexof(['IU','IG','LU','LG'],datum.c)","as":"xp"}],
  "mark":{"type":"tick","orient":"horizontal","size":6,"thickness":0.8},
  "encoding":{"x":{"field":"xp","type":"quantitative"},"y":{"aggregate":"mean","field":"v","type":"quantitative","title":"Median Fluorescence Intensity"},"color":{"field":"c","type":"nominal"}}},
 {"data":{"name":"br"},"transform":[{"filter":"datum.p=='C'"}],"mark":{"type":"rule","strokeWidth":0.6,"color":"#333"},"encoding":{"x":{"field":"a","type":"quantitative"},"x2":{"field":"b"},"y":{"field":"lvl","type":"quantitative","title":"Median Fluorescence Intensity"}}},
 {"data":{"name":"br"},"transform":[{"filter":"datum.p=='C'"}],"mark":{"type":"rule","strokeWidth":0.6,"color":"#333"},"encoding":{"x":{"field":"a","type":"quantitative"},"y":{"field":"lvl","type":"quantitative","title":"Median Fluorescence Intensity"},"y2":{"field":"ya"}}},
 {"data":{"name":"br"},"transform":[{"filter":"datum.p=='C'"}],"mark":{"type":"rule","strokeWidth":0.6,"color":"#333"},"encoding":{"x":{"field":"b","type":"quantitative"},"y":{"field":"lvl","type":"quantitative","title":"Median Fluorescence Intensity"},"y2":{"field":"yb"}}},
 {"data":{"name":"br"},"transform":[{"filter":"datum.p=='C'"},{"calculate":"(datum.a+datum.b)/2","as":"xm"}],"mark":{"type":"text","fontSize":6,"baseline":"alphabetic","dy":2,"color":"#222"},"encoding":{"x":{"field":"xm","type":"quantitative"},"y":{"field":"lvl","type":"quantitative","title":"Median Fluorescence Intensity"},"text":{"field":"s"}}},
 {"data":{"values":[{"t":"C"}]},"mark":{"type":"text","fontSize":11,"fontWeight":"bold","dx":-20,"dy":-8,"align":"center","baseline":"middle","color":"black"},"encoding":{"x":{"datum":0.7},"y":{"datum":15000},"text":{"field":"t"}}}
]},
{"width":72,"height":82,"title":{"text":"CD28","offset":1},"layer":[
 {"data":{"name":"pts"},"transform":[{"filter":"datum.p=='D'"},{"calculate":"(datum.g=='DC'?6:1)+indexof(['IU','IG','LU','LG'],datum.c)","as":"xp"}],
  "mark":{"type":"circle","size":10,"opacity":1},
  "encoding":{"x":{"field":"xp","type":"quantitative","scale":{"domain":[0.7,9.9],"nice":false,"zero":false},"axis":{"values":[2.5,7.5],"title":null,"labelExpr":"datum.value < 5 ? ['B cells','+','T cells'] : ['Dendritic Cells','+','T cells']"}},
   "xOffset":{"field":"r","type":"quantitative","scale":{"domain":[1,6],"range":[-2,2]}},
   "y":{"field":"v","type":"quantitative","scale":{"domain":[0,8000],"nice":false},"axis":{"values":[0,2000,4000,6000,8000],"format":"d"},"title":"Median Fluorescence Intensity"},
   "color":{"field":"c","type":"nominal"}}},
 {"data":{"name":"pts"},"transform":[{"filter":"datum.p=='D'"},{"calculate":"(datum.g=='DC'?6:1)+indexof(['IU','IG','LU','LG'],datum.c)","as":"xp"}],
  "mark":{"type":"errorbar","extent":"stdev","orient":"vertical","thickness":0.7,"ticks":{"size":3}},
  "encoding":{"x":{"field":"xp","type":"quantitative"},"y":{"field":"v","type":"quantitative","title":"Median Fluorescence Intensity"},"color":{"field":"c","type":"nominal"}}},
 {"data":{"name":"pts"},"transform":[{"filter":"datum.p=='D'"},{"calculate":"(datum.g=='DC'?6:1)+indexof(['IU','IG','LU','LG'],datum.c)","as":"xp"}],
  "mark":{"type":"tick","orient":"horizontal","size":6,"thickness":0.8},
  "encoding":{"x":{"field":"xp","type":"quantitative"},"y":{"aggregate":"mean","field":"v","type":"quantitative","title":"Median Fluorescence Intensity"},"color":{"field":"c","type":"nominal"}}},
 {"data":{"name":"br"},"transform":[{"filter":"datum.p=='D'"}],"mark":{"type":"rule","strokeWidth":0.6,"color":"#333"},"encoding":{"x":{"field":"a","type":"quantitative"},"x2":{"field":"b"},"y":{"field":"lvl","type":"quantitative","title":"Median Fluorescence Intensity"}}},
 {"data":{"name":"br"},"transform":[{"filter":"datum.p=='D'"}],"mark":{"type":"rule","strokeWidth":0.6,"color":"#333"},"encoding":{"x":{"field":"a","type":"quantitative"},"y":{"field":"lvl","type":"quantitative","title":"Median Fluorescence Intensity"},"y2":{"field":"ya"}}},
 {"data":{"name":"br"},"transform":[{"filter":"datum.p=='D'"}],"mark":{"type":"rule","strokeWidth":0.6,"color":"#333"},"encoding":{"x":{"field":"b","type":"quantitative"},"y":{"field":"lvl","type":"quantitative","title":"Median Fluorescence Intensity"},"y2":{"field":"yb"}}},
 {"data":{"name":"br"},"transform":[{"filter":"datum.p=='D'"},{"calculate":"(datum.a+datum.b)/2","as":"xm"}],"mark":{"type":"text","fontSize":6,"baseline":"alphabetic","dy":2,"color":"#222"},"encoding":{"x":{"field":"xm","type":"quantitative"},"y":{"field":"lvl","type":"quantitative","title":"Median Fluorescence Intensity"},"text":{"field":"s"}}},
 {"data":{"values":[{"t":"D"}]},"mark":{"type":"text","fontSize":11,"fontWeight":"bold","dx":-20,"dy":-8,"align":"center","baseline":"middle","color":"black"},"encoding":{"x":{"datum":0.7},"y":{"datum":8000},"text":{"field":"t"}}}
]},
{"width":72,"height":82,"title":{"text":"CD40L","offset":10},"layer":[
 {"data":{"name":"pts"},"transform":[{"filter":"datum.p=='E'"},{"calculate":"(datum.g=='DC'?6:1)+indexof(['IU','IG','LU','LG'],datum.c)","as":"xp"}],
  "mark":{"type":"circle","size":10,"opacity":1},
  "encoding":{"x":{"field":"xp","type":"quantitative","scale":{"domain":[0.7,9.9],"nice":false,"zero":false},"axis":{"values":[2.5,7.5],"title":null,"labelExpr":"datum.value < 5 ? ['B cells','+','T cells'] : ['Dendritic Cells','+','T cells']"}},
   "xOffset":{"field":"r","type":"quantitative","scale":{"domain":[1,6],"range":[-2,2]}},
   "y":{"field":"v","type":"quantitative","scale":{"domain":[0,600],"nice":false},"axis":{"values":[0,200,400,600],"format":"d"},"title":"Median Fluorescence Intensity"},
   "color":{"field":"c","type":"nominal"}}},
 {"data":{"name":"pts"},"transform":[{"filter":"datum.p=='E'"},{"calculate":"(datum.g=='DC'?6:1)+indexof(['IU','IG','LU','LG'],datum.c)","as":"xp"}],
  "mark":{"type":"errorbar","extent":"stdev","orient":"vertical","thickness":0.7,"ticks":{"size":3}},
  "encoding":{"x":{"field":"xp","type":"quantitative"},"y":{"field":"v","type":"quantitative","title":"Median Fluorescence Intensity"},"color":{"field":"c","type":"nominal"}}},
 {"data":{"name":"pts"},"transform":[{"filter":"datum.p=='E'"},{"calculate":"(datum.g=='DC'?6:1)+indexof(['IU','IG','LU','LG'],datum.c)","as":"xp"}],
  "mark":{"type":"tick","orient":"horizontal","size":6,"thickness":0.8},
  "encoding":{"x":{"field":"xp","type":"quantitative"},"y":{"aggregate":"mean","field":"v","type":"quantitative","title":"Median Fluorescence Intensity"},"color":{"field":"c","type":"nominal"}}},
 {"data":{"name":"br"},"transform":[{"filter":"datum.p=='E'"}],"mark":{"type":"rule","strokeWidth":0.6,"color":"#333"},"encoding":{"x":{"field":"a","type":"quantitative"},"x2":{"field":"b"},"y":{"field":"lvl","type":"quantitative","title":"Median Fluorescence Intensity"}}},
 {"data":{"name":"br"},"transform":[{"filter":"datum.p=='E'"}],"mark":{"type":"rule","strokeWidth":0.6,"color":"#333"},"encoding":{"x":{"field":"a","type":"quantitative"},"y":{"field":"lvl","type":"quantitative","title":"Median Fluorescence Intensity"},"y2":{"field":"ya"}}},
 {"data":{"name":"br"},"transform":[{"filter":"datum.p=='E'"}],"mark":{"type":"rule","strokeWidth":0.6,"color":"#333"},"encoding":{"x":{"field":"b","type":"quantitative"},"y":{"field":"lvl","type":"quantitative","title":"Median Fluorescence Intensity"},"y2":{"field":"yb"}}},
 {"data":{"name":"br"},"transform":[{"filter":"datum.p=='E'"},{"calculate":"(datum.a+datum.b)/2","as":"xm"}],"mark":{"type":"text","fontSize":6,"baseline":"alphabetic","dy":2,"color":"#222"},"encoding":{"x":{"field":"xm","type":"quantitative"},"y":{"field":"lvl","type":"quantitative","title":"Median Fluorescence Intensity"},"text":{"field":"s"}}},
 {"data":{"values":[{"t":"E"}]},"mark":{"type":"text","fontSize":11,"fontWeight":"bold","dx":-20,"dy":-8,"align":"center","baseline":"middle","color":"black"},"encoding":{"x":{"datum":0.7},"y":{"datum":600},"text":{"field":"t"}}}
]},
{"width":72,"height":82,"title":{"text":"FASR","offset":0},"layer":[
 {"data":{"name":"pts"},"transform":[{"filter":"datum.p=='F'"},{"calculate":"(datum.g=='DC'?6:1)+indexof(['IU','IG','LU','LG'],datum.c)","as":"xp"}],
  "mark":{"type":"circle","size":10,"opacity":1},
  "encoding":{"x":{"field":"xp","type":"quantitative","scale":{"domain":[0.7,9.9],"nice":false,"zero":false},"axis":{"values":[2.5,7.5],"title":null,"labelExpr":"datum.value < 5 ? ['B cells','+','T cells'] : ['Dendritic Cells','+','T cells']"}},
   "xOffset":{"field":"r","type":"quantitative","scale":{"domain":[1,6],"range":[-2,2]}},
   "y":{"field":"v","type":"quantitative","scale":{"domain":[0,1000],"nice":false},"axis":{"values":[0,200,400,600,800,1000],"format":"d"},"title":"Median Fluorescence Intensity"},
   "color":{"field":"c","type":"nominal"}}},
 {"data":{"name":"pts"},"transform":[{"filter":"datum.p=='F'"},{"calculate":"(datum.g=='DC'?6:1)+indexof(['IU','IG','LU','LG'],datum.c)","as":"xp"}],
  "mark":{"type":"errorbar","extent":"stdev","orient":"vertical","thickness":0.7,"ticks":{"size":3}},
  "encoding":{"x":{"field":"xp","type":"quantitative"},"y":{"field":"v","type":"quantitative","title":"Median Fluorescence Intensity"},"color":{"field":"c","type":"nominal"}}},
 {"data":{"name":"pts"},"transform":[{"filter":"datum.p=='F'"},{"calculate":"(datum.g=='DC'?6:1)+indexof(['IU','IG','LU','LG'],datum.c)","as":"xp"}],
  "mark":{"type":"tick","orient":"horizontal","size":6,"thickness":0.8},
  "encoding":{"x":{"field":"xp","type":"quantitative"},"y":{"aggregate":"mean","field":"v","type":"quantitative","title":"Median Fluorescence Intensity"},"color":{"field":"c","type":"nominal"}}},
 {"data":{"name":"br"},"transform":[{"filter":"datum.p=='F'"}],"mark":{"type":"rule","strokeWidth":0.6,"color":"#333"},"encoding":{"x":{"field":"a","type":"quantitative"},"x2":{"field":"b"},"y":{"field":"lvl","type":"quantitative","title":"Median Fluorescence Intensity"}}},
 {"data":{"name":"br"},"transform":[{"filter":"datum.p=='F'"}],"mark":{"type":"rule","strokeWidth":0.6,"color":"#333"},"encoding":{"x":{"field":"a","type":"quantitative"},"y":{"field":"lvl","type":"quantitative","title":"Median Fluorescence Intensity"},"y2":{"field":"ya"}}},
 {"data":{"name":"br"},"transform":[{"filter":"datum.p=='F'"}],"mark":{"type":"rule","strokeWidth":0.6,"color":"#333"},"encoding":{"x":{"field":"b","type":"quantitative"},"y":{"field":"lvl","type":"quantitative","title":"Median Fluorescence Intensity"},"y2":{"field":"yb"}}},
 {"data":{"name":"br"},"transform":[{"filter":"datum.p=='F'"},{"calculate":"(datum.a+datum.b)/2","as":"xm"}],"mark":{"type":"text","fontSize":6,"baseline":"alphabetic","dy":2,"color":"#222"},"encoding":{"x":{"field":"xm","type":"quantitative"},"y":{"field":"lvl","type":"quantitative","title":"Median Fluorescence Intensity"},"text":{"field":"s"}}},
 {"data":{"values":[{"t":"F"}]},"mark":{"type":"text","fontSize":11,"fontWeight":"bold","dx":-20,"dy":-8,"align":"center","baseline":"middle","color":"black"},"encoding":{"x":{"datum":0.7},"y":{"datum":1000},"text":{"field":"t"}}}
]},
{"width":72,"height":82,"title":{"text":"CD69","offset":8},"layer":[
 {"data":{"name":"pts"},"transform":[{"filter":"datum.p=='G'"},{"calculate":"(datum.g=='DC'?6:1)+indexof(['IU','IG','LU','LG'],datum.c)","as":"xp"}],
  "mark":{"type":"circle","size":10,"opacity":1},
  "encoding":{"x":{"field":"xp","type":"quantitative","scale":{"domain":[0.7,9.9],"nice":false,"zero":false},"axis":{"values":[2.5,7.5],"title":null,"labelExpr":"datum.value < 5 ? ['B cells','+','T cells'] : ['Dendritic Cells','+','T cells']"}},
   "xOffset":{"field":"r","type":"quantitative","scale":{"domain":[1,6],"range":[-2,2]}},
   "y":{"field":"v","type":"quantitative","scale":{"domain":[0,30000],"nice":false},"axis":{"values":[0,10000,20000,30000],"format":"d"},"title":"Median Fluorescence Intensity"},
   "color":{"field":"c","type":"nominal"}}},
 {"data":{"name":"pts"},"transform":[{"filter":"datum.p=='G'"},{"calculate":"(datum.g=='DC'?6:1)+indexof(['IU','IG','LU','LG'],datum.c)","as":"xp"}],
  "mark":{"type":"errorbar","extent":"stdev","orient":"vertical","thickness":0.7,"ticks":{"size":3}},
  "encoding":{"x":{"field":"xp","type":"quantitative"},"y":{"field":"v","type":"quantitative","title":"Median Fluorescence Intensity"},"color":{"field":"c","type":"nominal"}}},
 {"data":{"name":"pts"},"transform":[{"filter":"datum.p=='G'"},{"calculate":"(datum.g=='DC'?6:1)+indexof(['IU','IG','LU','LG'],datum.c)","as":"xp"}],
  "mark":{"type":"tick","orient":"horizontal","size":6,"thickness":0.8},
  "encoding":{"x":{"field":"xp","type":"quantitative"},"y":{"aggregate":"mean","field":"v","type":"quantitative","title":"Median Fluorescence Intensity"},"color":{"field":"c","type":"nominal"}}},
 {"data":{"name":"br"},"transform":[{"filter":"datum.p=='G'"}],"mark":{"type":"rule","strokeWidth":0.6,"color":"#333"},"encoding":{"x":{"field":"a","type":"quantitative"},"x2":{"field":"b"},"y":{"field":"lvl","type":"quantitative","title":"Median Fluorescence Intensity"}}},
 {"data":{"name":"br"},"transform":[{"filter":"datum.p=='G'"}],"mark":{"type":"rule","strokeWidth":0.6,"color":"#333"},"encoding":{"x":{"field":"a","type":"quantitative"},"y":{"field":"lvl","type":"quantitative","title":"Median Fluorescence Intensity"},"y2":{"field":"ya"}}},
 {"data":{"name":"br"},"transform":[{"filter":"datum.p=='G'"}],"mark":{"type":"rule","strokeWidth":0.6,"color":"#333"},"encoding":{"x":{"field":"b","type":"quantitative"},"y":{"field":"lvl","type":"quantitative","title":"Median Fluorescence Intensity"},"y2":{"field":"yb"}}},
 {"data":{"name":"br"},"transform":[{"filter":"datum.p=='G'"},{"calculate":"(datum.a+datum.b)/2","as":"xm"}],"mark":{"type":"text","fontSize":6,"baseline":"alphabetic","dy":2,"color":"#222"},"encoding":{"x":{"field":"xm","type":"quantitative"},"y":{"field":"lvl","type":"quantitative","title":"Median Fluorescence Intensity"},"text":{"field":"s"}}},
 {"data":{"values":[{"t":"G"}]},"mark":{"type":"text","fontSize":11,"fontWeight":"bold","dx":-20,"dy":-8,"align":"center","baseline":"middle","color":"black"},"encoding":{"x":{"datum":0.7},"y":{"datum":30000},"text":{"field":"t"}}}
]},
{"width":72,"height":82,"title":{"text":"Ki67","offset":-6},"layer":[
 {"data":{"name":"pts"},"transform":[{"filter":"datum.p=='H'"},{"calculate":"(datum.g=='DC'?6:1)+indexof(['IU','IG','LU','LG'],datum.c)","as":"xp"}],
  "mark":{"type":"circle","size":10,"opacity":1},
  "encoding":{"x":{"field":"xp","type":"quantitative","scale":{"domain":[0.7,9.9],"nice":false,"zero":false},"axis":{"values":[2.5,7.5],"title":null,"labelExpr":"datum.value < 5 ? ['B cells','+','T cells'] : ['Dendritic Cells','+','T cells']"}},
   "xOffset":{"field":"r","type":"quantitative","scale":{"domain":[1,6],"range":[-2,2]}},
   "y":{"field":"v","type":"quantitative","scale":{"domain":[0,4000],"nice":false},"axis":{"values":[0,1000,2000,3000,4000],"format":"d"},"title":"Median Fluorescence Intensity"},
   "color":{"field":"c","type":"nominal"}}},
 {"data":{"name":"pts"},"transform":[{"filter":"datum.p=='H'"},{"calculate":"(datum.g=='DC'?6:1)+indexof(['IU','IG','LU','LG'],datum.c)","as":"xp"}],
  "mark":{"type":"errorbar","extent":"stdev","orient":"vertical","thickness":0.7,"ticks":{"size":3}},
  "encoding":{"x":{"field":"xp","type":"quantitative"},"y":{"field":"v","type":"quantitative","title":"Median Fluorescence Intensity"},"color":{"field":"c","type":"nominal"}}},
 {"data":{"name":"pts"},"transform":[{"filter":"datum.p=='H'"},{"calculate":"(datum.g=='DC'?6:1)+indexof(['IU','IG','LU','LG'],datum.c)","as":"xp"}],
  "mark":{"type":"tick","orient":"horizontal","size":6,"thickness":0.8},
  "encoding":{"x":{"field":"xp","type":"quantitative"},"y":{"aggregate":"mean","field":"v","type":"quantitative","title":"Median Fluorescence Intensity"},"color":{"field":"c","type":"nominal"}}},
 {"data":{"values":[{"t":"H"}]},"mark":{"type":"text","fontSize":11,"fontWeight":"bold","dx":-20,"dy":-8,"align":"center","baseline":"middle","color":"black"},"encoding":{"x":{"datum":0.7},"y":{"datum":4000},"text":{"field":"t"}}}
]},
{"width":72,"height":82,"title":{"text":"OX40","offset":7},"layer":[
 {"data":{"name":"pts"},"transform":[{"filter":"datum.p=='I'"},{"calculate":"(datum.g=='DC'?6:1)+indexof(['IU','IG','LU','LG'],datum.c)","as":"xp"}],
  "mark":{"type":"circle","size":10,"opacity":1},
  "encoding":{"x":{"field":"xp","type":"quantitative","scale":{"domain":[0.7,9.9],"nice":false,"zero":false},"axis":{"values":[2.5,7.5],"title":null,"labelExpr":"datum.value < 5 ? ['B cells','+','T cells'] : ['Dendritic Cells','+','T cells']"}},
   "xOffset":{"field":"r","type":"quantitative","scale":{"domain":[1,6],"range":[-2,2]}},
   "y":{"field":"v","type":"quantitative","scale":{"domain":[0,2500],"nice":false},"axis":{"values":[0,500,1000,1500,2000,2500],"format":"d"},"title":"Median Fluorescence Intensity"},
   "color":{"field":"c","type":"nominal"}}},
 {"data":{"name":"pts"},"transform":[{"filter":"datum.p=='I'"},{"calculate":"(datum.g=='DC'?6:1)+indexof(['IU','IG','LU','LG'],datum.c)","as":"xp"}],
  "mark":{"type":"errorbar","extent":"stdev","orient":"vertical","thickness":0.7,"ticks":{"size":3}},
  "encoding":{"x":{"field":"xp","type":"quantitative"},"y":{"field":"v","type":"quantitative","title":"Median Fluorescence Intensity"},"color":{"field":"c","type":"nominal"}}},
 {"data":{"name":"pts"},"transform":[{"filter":"datum.p=='I'"},{"calculate":"(datum.g=='DC'?6:1)+indexof(['IU','IG','LU','LG'],datum.c)","as":"xp"}],
  "mark":{"type":"tick","orient":"horizontal","size":6,"thickness":0.8},
  "encoding":{"x":{"field":"xp","type":"quantitative"},"y":{"aggregate":"mean","field":"v","type":"quantitative","title":"Median Fluorescence Intensity"},"color":{"field":"c","type":"nominal"}}},
 {"data":{"name":"br"},"transform":[{"filter":"datum.p=='I'"}],"mark":{"type":"rule","strokeWidth":0.6,"color":"#333"},"encoding":{"x":{"field":"a","type":"quantitative"},"x2":{"field":"b"},"y":{"field":"lvl","type":"quantitative","title":"Median Fluorescence Intensity"}}},
 {"data":{"name":"br"},"transform":[{"filter":"datum.p=='I'"}],"mark":{"type":"rule","strokeWidth":0.6,"color":"#333"},"encoding":{"x":{"field":"a","type":"quantitative"},"y":{"field":"lvl","type":"quantitative","title":"Median Fluorescence Intensity"},"y2":{"field":"ya"}}},
 {"data":{"name":"br"},"transform":[{"filter":"datum.p=='I'"}],"mark":{"type":"rule","strokeWidth":0.6,"color":"#333"},"encoding":{"x":{"field":"b","type":"quantitative"},"y":{"field":"lvl","type":"quantitative","title":"Median Fluorescence Intensity"},"y2":{"field":"yb"}}},
 {"data":{"name":"br"},"transform":[{"filter":"datum.p=='I'"},{"calculate":"(datum.a+datum.b)/2","as":"xm"}],"mark":{"type":"text","fontSize":6,"baseline":"alphabetic","dy":2,"color":"#222"},"encoding":{"x":{"field":"xm","type":"quantitative"},"y":{"field":"lvl","type":"quantitative","title":"Median Fluorescence Intensity"},"text":{"field":"s"}}},
 {"data":{"values":[{"t":"I"}]},"mark":{"type":"text","fontSize":11,"fontWeight":"bold","dx":-20,"dy":-8,"align":"center","baseline":"middle","color":"black"},"encoding":{"x":{"datum":0.7},"y":{"datum":2500},"text":{"field":"t"}}}
]},
{"width":72,"height":82,"title":{"text":"ICOS","offset":7},"layer":[
 {"data":{"name":"pts"},"transform":[{"filter":"datum.p=='J'"},{"calculate":"(datum.g=='DC'?6:1)+indexof(['IU','IG','LU','LG'],datum.c)","as":"xp"}],
  "mark":{"type":"circle","size":10,"opacity":1},
  "encoding":{"x":{"field":"xp","type":"quantitative","scale":{"domain":[0.7,9.9],"nice":false,"zero":false},"axis":{"values":[2.5,7.5],"title":null,"labelExpr":"datum.value < 5 ? ['B cells','+','T cells'] : ['Dendritic Cells','+','T cells']"}},
   "xOffset":{"field":"r","type":"quantitative","scale":{"domain":[1,6],"range":[-2,2]}},
   "y":{"field":"v","type":"quantitative","scale":{"domain":[0,4000],"nice":false},"axis":{"values":[0,1000,2000,3000,4000],"format":"d"},"title":"Median Fluorescence Intensity"},
   "color":{"field":"c","type":"nominal"}}},
 {"data":{"name":"pts"},"transform":[{"filter":"datum.p=='J'"},{"calculate":"(datum.g=='DC'?6:1)+indexof(['IU','IG','LU','LG'],datum.c)","as":"xp"}],
  "mark":{"type":"errorbar","extent":"stdev","orient":"vertical","thickness":0.7,"ticks":{"size":3}},
  "encoding":{"x":{"field":"xp","type":"quantitative"},"y":{"field":"v","type":"quantitative","title":"Median Fluorescence Intensity"},"color":{"field":"c","type":"nominal"}}},
 {"data":{"name":"pts"},"transform":[{"filter":"datum.p=='J'"},{"calculate":"(datum.g=='DC'?6:1)+indexof(['IU','IG','LU','LG'],datum.c)","as":"xp"}],
  "mark":{"type":"tick","orient":"horizontal","size":6,"thickness":0.8},
  "encoding":{"x":{"field":"xp","type":"quantitative"},"y":{"aggregate":"mean","field":"v","type":"quantitative","title":"Median Fluorescence Intensity"},"color":{"field":"c","type":"nominal"}}},
 {"data":{"name":"br"},"transform":[{"filter":"datum.p=='J'"}],"mark":{"type":"rule","strokeWidth":0.6,"color":"#333"},"encoding":{"x":{"field":"a","type":"quantitative"},"x2":{"field":"b"},"y":{"field":"lvl","type":"quantitative","title":"Median Fluorescence Intensity"}}},
 {"data":{"name":"br"},"transform":[{"filter":"datum.p=='J'"}],"mark":{"type":"rule","strokeWidth":0.6,"color":"#333"},"encoding":{"x":{"field":"a","type":"quantitative"},"y":{"field":"lvl","type":"quantitative","title":"Median Fluorescence Intensity"},"y2":{"field":"ya"}}},
 {"data":{"name":"br"},"transform":[{"filter":"datum.p=='J'"}],"mark":{"type":"rule","strokeWidth":0.6,"color":"#333"},"encoding":{"x":{"field":"b","type":"quantitative"},"y":{"field":"lvl","type":"quantitative","title":"Median Fluorescence Intensity"},"y2":{"field":"yb"}}},
 {"data":{"name":"br"},"transform":[{"filter":"datum.p=='J'"},{"calculate":"(datum.a+datum.b)/2","as":"xm"}],"mark":{"type":"text","fontSize":6,"baseline":"alphabetic","dy":2,"color":"#222"},"encoding":{"x":{"field":"xm","type":"quantitative"},"y":{"field":"lvl","type":"quantitative","title":"Median Fluorescence Intensity"},"text":{"field":"s"}}},
 {"data":{"values":[{"t":"J"}]},"mark":{"type":"text","fontSize":11,"fontWeight":"bold","dx":-20,"dy":-8,"align":"center","baseline":"middle","color":"black"},"encoding":{"x":{"datum":0.7},"y":{"datum":4000},"text":{"field":"t"}}}
]}
],
"resolve": {"scale": {"color": "shared"}},
"config": {
 "font": "Liberation Sans",
 "view": {"stroke": null},
 "title": {"fontSize": 6, "fontWeight": "bold", "color": "black"},
 "axis": {"grid": false, "domainColor": "black", "tickColor": "black", "domainWidth": 0.9, "tickWidth": 0.9, "tickSize": 2, "labelFontSize": 4.5, "labelColor": "black", "labelPadding": 1, "titleFontSize": 4.5, "titleColor": "black", "titleFontWeight": "bold", "titlePadding": 2, "labelOverlap": false, "labelFlush": false, "labelLineHeight": 6.5, "labelFontWeight": "bold"}
}
}
